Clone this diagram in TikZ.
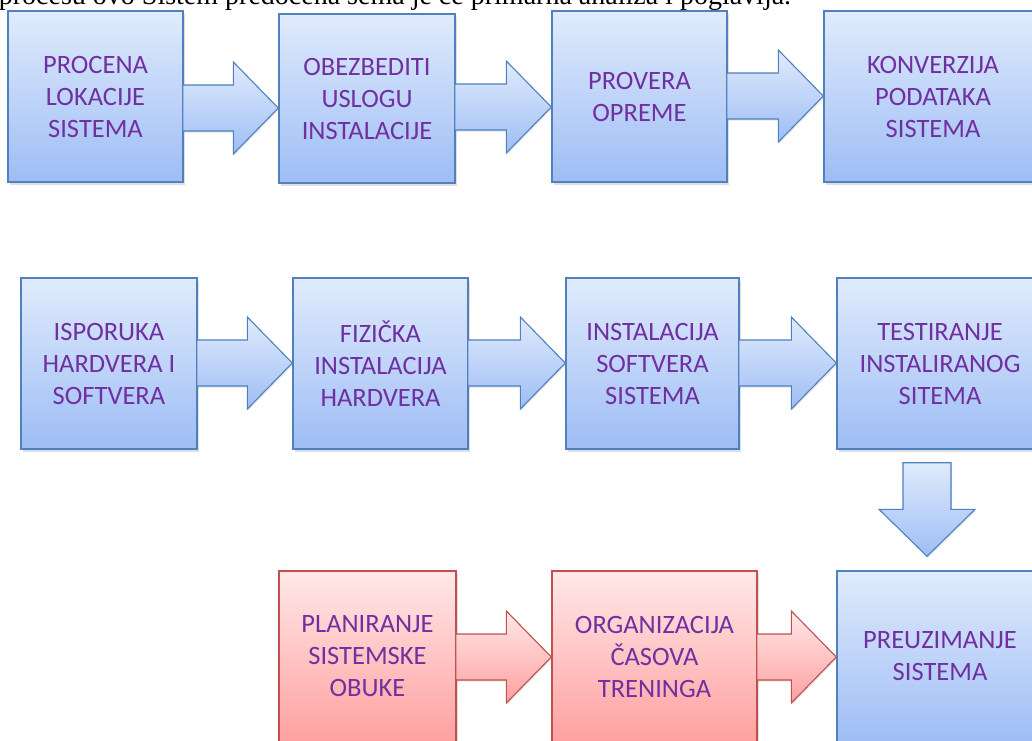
\documentclass[tikz,border=0pt]{standalone}
\usepackage{fontspec}
\setmainfont{Carlito}
\newfontfamily\bodyserif{Liberation Serif}
\usetikzlibrary{calc,shadows}

\definecolor{blueline}{HTML}{4F81BD}
\definecolor{bluetop}{RGB}{224,235,252}
\definecolor{bluebottom}{RGB}{158,189,245}
\definecolor{redline}{HTML}{C0504D}
\definecolor{redtop}{RGB}{255,232,232}
\definecolor{redbottom}{RGB}{255,160,160}
\definecolor{labeltext}{HTML}{7030A0}

\tikzset{
  stepbox/.style={rectangle, inner sep=0pt, align=center, text=labeltext,
    font=\fontsize{26.5}{32}\selectfont, line width=1.4pt,
    drop shadow={opacity=0.25, shadow xshift=1.5pt, shadow yshift=-2.5pt}},
  bluebox/.style={stepbox, draw=blueline, top color=bluetop, bottom color=bluebottom},
  redbox/.style={stepbox, draw=redline, top color=redtop, bottom color=redbottom},
  flowarrow/.style={line width=1.1pt, line join=miter,
    drop shadow={opacity=0.2, shadow xshift=1pt, shadow yshift=-1.5pt}},
  bluearrow/.style={flowarrow, draw=blueline, top color=bluetop, bottom color=bluebottom},
  redarrow/.style={flowarrow, draw=redline, top color=redtop, bottom color=redbottom},
}

% block arrow pointing right: style, source node, target node, tip height
\newcommand{\rightblock}[4]{%
  \coordinate (ay) at (0,#4);
  \draw[#1] ($(#2.east |- ay)+(-1pt,23pt)$)
    -- ($(#3.west |- ay)+(-45pt,23pt)$)
    -- ($(#3.west |- ay)+(-45pt,46pt)$)
    -- (#3.west |- ay)
    -- ($(#3.west |- ay)+(-45pt,-46pt)$)
    -- ($(#3.west |- ay)+(-45pt,-23pt)$)
    -- ($(#2.east |- ay)+(-1pt,-23pt)$) -- cycle;}

% block arrow pointing down: style, source node, target node, axis x
\newcommand{\downblock}[4]{%
  \coordinate (ax) at (#4,0);
  \coordinate (as) at ($(#2.south -| ax)+(0,-13pt)$);
  \coordinate (at) at ($(#3.north -| ax)+(0,14pt)$);
  \draw[#1] ($(as)+(-24pt,0)$)
    -- ($(as)+(24pt,0)$)
    -- ($(at)+(24pt,47pt)$)
    -- ($(at)+(48pt,47pt)$)
    -- (at)
    -- ($(at)+(-48pt,47pt)$)
    -- ($(at)+(-24pt,47pt)$) -- cycle;}

\begin{document}
\begin{tikzpicture}[x=1pt,y=-1pt]
\useasboundingbox (0,0) rectangle (1032,740);
\clip (0,0) rectangle (1032,740);
\fill[white] (0,0) rectangle (1032,740);

% last line of the preceding paragraph
\node[anchor=base west, inner sep=0pt, font=\bodyserif\fontsize{28}{30}\selectfont]
  (intro) at (225,4.5) {\llap{U procesu ovo Sistem }predočena šema je ce primarna analiza i poglavlja.};

% first row
\node[bluebox, minimum width=175pt, minimum height=171pt] (b1) at (95.5,96.5) {PROCENA\\LOKACIJE\\SISTEMA};
\node[bluebox, minimum width=176pt, minimum height=169pt] (b2) at (367,98.5) {OBEZBEDITI\\USLOGU\\INSTALACIJE};
\node[bluebox, minimum width=175pt, minimum height=171pt] (b3) at (639.5,96.5) {PROVERA\\OPREME};
\node[bluebox, minimum width=218pt, minimum height=171pt] (b4) at (933,96.5) {KONVERZIJA\\PODATAKA\\SISTEMA};

% second row
\node[bluebox, minimum width=176pt, minimum height=171pt] (b5) at (109,363.5) {ISPORUKA\\HARDVERA I\\SOFTVERA};
\node[bluebox, minimum width=175pt, minimum height=171pt] (b6) at (380.5,363.5) {FIZIČKA\\INSTALACIJA\\HARDVERA};
\node[bluebox, minimum width=173pt, minimum height=171pt] (b7) at (652.5,363.5) {INSTALACIJA\\SOFTVERA\\SISTEMA};
\node[bluebox, minimum width=206pt, minimum height=171pt] (b8) at (940,363.5) {TESTIRANJE\\INSTALIRANOG\\SITEMA};

% third row
\node[redbox, minimum width=177pt, minimum height=171pt] (b10) at (367.5,656.5) {PLANIRANJE\\SISTEMSKE\\OBUKE};
\node[redbox, minimum width=205pt, minimum height=171pt] (b11) at (654.5,656.5) {ORGANIZACIJA\\ČASOVA\\TRENINGA};
\node[bluebox, minimum width=206pt, minimum height=171pt] (b9) at (940,656.5) {PREUZIMANJE\\SISTEMA};

% connectors
\rightblock{bluearrow}{b1}{b2}{108}
\rightblock{bluearrow}{b2}{b3}{107}
\rightblock{bluearrow}{b3}{b4}{96}
\rightblock{bluearrow}{b5}{b6}{363}
\rightblock{bluearrow}{b6}{b7}{363}
\rightblock{bluearrow}{b7}{b8}{363}
\downblock{bluearrow}{b8}{b9}{927}
\rightblock{redarrow}{b10}{b11}{657}
\rightblock{redarrow}{b11}{b9}{657}
\end{tikzpicture}
\end{document}
